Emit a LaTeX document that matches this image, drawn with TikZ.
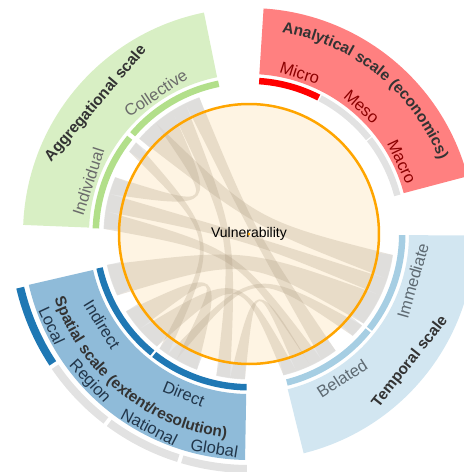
\documentclass[tikz,border=0pt]{standalone}
\usepackage{fontspec}
\setmainfont{Liberation Sans}
\usetikzlibrary{decorations.text}
\definecolor{greenbar}{HTML}{B2DF8A}
\definecolor{greensec}{HTML}{D8EFC4}
\definecolor{redbar}{HTML}{FF0000}
\definecolor{redsec}{HTML}{FF8080}
\definecolor{greybar}{HTML}{E2E2E2}
\definecolor{spbar}{HTML}{1F78B4}
\definecolor{spsec}{HTML}{8FBBD9}
\definecolor{tmbar}{HTML}{A6CEE3}
\definecolor{tmsec}{HTML}{D2E6F1}
\definecolor{track}{HTML}{DCDCDC}
\definecolor{orng}{HTML}{FFA500}
\definecolor{cream}{HTML}{FEF4E3}
\definecolor{chordc}{HTML}{A8957A}
\definecolor{titlec}{HTML}{333333}
\definecolor{greenlab}{HTML}{6B6B6B}
\definecolor{redlab}{HTML}{8B0000}
\definecolor{splab}{HTML}{22364A}
\definecolor{tmlab}{HTML}{5E6A72}
\newcommand{\ringseg}[5]{\fill[#1] (#4:#2) arc[start angle=#4,end angle=#5,radius=#2] -- (#5:#3) arc[start angle=#5,end angle=#4,radius=#3] -- cycle;}
% control point of an edge between angles a and b: k * midpoint of the straight chord
\newcommand{\ctl}[2]{({0.3*72.5*(cos(#1)+cos(#2))},{0.3*72.5*(sin(#1)+sin(#2))})}
\newcommand{\chordband}[4]{\fill[chordsty] (#1:145) arc[start angle=#1,end angle=#2,radius=145] .. controls \ctl{#2}{#3} .. (#3:145) arc[start angle=#3,end angle=#4,radius=145] .. controls \ctl{#4}{#1} .. (#1:145) -- cycle;}
\newcommand{\ttlfmt}{\fontsize{15.5}{15.5}\selectfont\bfseries\color{titlec}}
\begin{document}
\begin{tikzpicture}[x=1pt,y=1pt,
  chordsty/.style={fill=chordc,fill opacity=0.25},
  tracksty/.style={fill=track,fill opacity=0.72},
  sublab/.style={font=\fontsize{16.5}{16.5}\selectfont,inner sep=0pt},
  ttlsty/.style={font=\fontsize{15.5}{15.5}\selectfont\bfseries,text=titlec,inner sep=0pt}]
\useasboundingbox (-249,-238) rectangle (215,234);
\clip (-249,-238) rectangle (215,234);
% sectors
\ringseg{greensec}{160}{226}{101.5}{177.7}
\ringseg{redsec}{160}{226}{14.8}{86.3}
\ringseg{spsec}{160}{226}{193}{269}
\ringseg{tmsec}{160}{226}{284}{359.6}
% inner bars
\ringseg{greenbar}{150}{156.5}{101.4}{139.4}
\ringseg{greenbar}{150}{156.5}{141.1}{177.9}
\ringseg{redbar}{150}{156.5}{62.9}{86.2}
\ringseg{greybar}{150}{156.5}{38.7}{62.3}
\ringseg{greybar}{150}{156.5}{14.6}{38.2}
\ringseg{spbar}{150}{156.5}{192.8}{230.9}
\ringseg{spbar}{150}{156.5}{231.8}{269.1}
\ringseg{tmbar}{150}{156.5}{284.3}{321}
\ringseg{tmbar}{150}{156.5}{321.8}{359.6}
% outer bars (spatial)
\ringseg{spbar}{231}{239}{193.2}{213.4}
\ringseg{greybar}{231}{239}{214.4}{232.5}
\ringseg{greybar}{231}{239}{233.5}{252.5}
\ringseg{greybar}{231}{239}{253.5}{269.5}
% disk
\fill[cream] (0,0) circle (130);
% chords
\chordband{110}{116}{300}{306.6}
\chordband{116}{122}{257}{262.5}
\chordband{122}{130}{157}{164}
\chordband{130}{139}{342}{351.7}
\chordband{141}{145.5}{232}{236}
\chordband{164}{171}{335}{342}
\chordband{171}{178}{295}{300}
\chordband{192.3}{205}{322}{335}
\chordband{212.2}{221}{240}{249}
\chordband{221}{230.7}{283.7}{289}
\chordband{236}{240}{315.5}{321}
\chordband{262.5}{268.4}{289}{295}
% grey track (over the chord ends)
\ringseg{tracksty}{130}{145.5}{110}{139}
\ringseg{tracksty}{130}{145.5}{141}{145.5}
\ringseg{tracksty}{130}{145.5}{157}{178}
\ringseg{tracksty}{130}{145.5}{192.3}{205}
\ringseg{tracksty}{130}{145.5}{212.2}{230.7}
\ringseg{tracksty}{130}{145.5}{232}{249}
\ringseg{tracksty}{130}{145.5}{257}{268.4}
\ringseg{tracksty}{130}{145.5}{283.7}{306.6}
\ringseg{tracksty}{130}{145.5}{315.5}{321}
\ringseg{tracksty}{130}{145.5}{322}{351.7}
% orange circle
\draw[orng,line width=2.5] (0,0) circle (130);
\node (vul) at (0,0) {\fontsize{14}{14}\selectfont Vulnerability};
\fill[orng] (0,0) circle (1.3);
% green labels
\node[ttlsty,rotate=49.6] (aggt) at (139.6:201) {Aggregational scale};
\node[sublab,text=greenlab,rotate=33.5] (coll) at (123.5:169) {Collective};
\node[sublab,text=greenlab,rotate=72] (indiv) at (162:169) {Individual};
% red labels
\path[decorate,decoration={text along path,text align=center,text={|\ttlfmt|Analytical scale (economics)}}] (96:204) arc[start angle=96,end angle=6,radius=204];
\node[sublab,text=redlab,rotate=-17.5] (micro) at (72.5:169) {Micro};
\node[sublab,text=redlab,rotate=-41.5] (meso) at (48.5:170) {Meso};
\node[sublab,text=redlab,rotate=-64.7] (macro) at (25.3:169) {Macro};
% spatial labels
\path[decorate,decoration={text along path,text align=center,text={|\ttlfmt|Spatial scale (extent/resolution)}}] (186:205) arc[start angle=186,end angle=276,radius=205];
\node[sublab,text=splab,rotate=301.6] (indir) at (211.6:172.5) {Indirect};
\node[sublab,text=splab,rotate=337.8] (dir) at (247.8:172.5) {Direct};
\node[sublab,text=splab,rotate=294.9] (local) at (204.9:217.3) {Local};
\node[sublab,text=splab,rotate=312.8] (region) at (222.8:217.3) {Region};
\node[sublab,text=splab,rotate=332.7] (natl) at (242.7:217.3) {National};
\node[sublab,text=splab,rotate=350.8] (glob) at (260.8:217) {Global};
% temporal labels
\node[ttlsty,rotate=51.6] (tempt) at (321.6:205.7) {Temporal scale};
\node[sublab,text=tmlab,rotate=32.8] (bel) at (302.8:171.7) {Belated};
\node[sublab,text=tmlab,rotate=74] (imm) at (344:170.4) {Immediate};
\end{tikzpicture}
\end{document}
